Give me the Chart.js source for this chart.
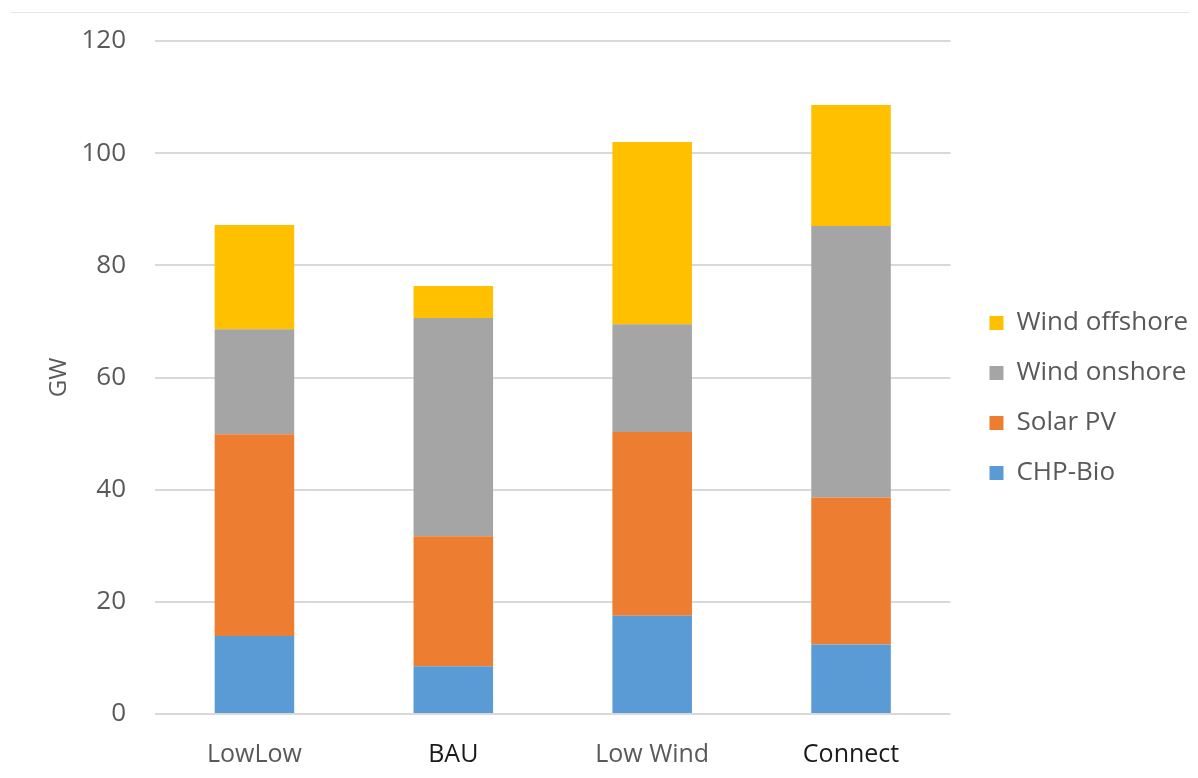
<!DOCTYPE html>
<html>
<head>
<meta charset="utf-8">
<script src="https://cdn.jsdelivr.net/npm/chart.js@4/dist/chart.umd.min.js"></script>
<style>
  html, body { margin: 0; padding: 0; background: #fff; overflow: hidden; }
  #wrap { position: relative; width: 1198px; height: 778px; }
  #topline { position: absolute; left: 10px; right: 8px; top: 12px; height: 1px; background: #e6e6e6; }
  canvas { position: absolute; left: 0; top: 0; }
</style>
</head>
<body>
<div id="wrap">
  <div id="topline"></div>
  <canvas id="c" width="1198" height="778"></canvas>
</div>
<script>
const categories = ["LowLow", "BAU", "Low Wind", "Connect"];
const chpBio      = [13.9, 8.5, 17.5, 12.4];
const solarPV     = [36.0, 23.2, 32.8, 26.2];
const windOnshore = [18.7, 38.9, 19.2, 48.4];
const windOffshore= [18.6, 5.7, 32.5, 21.6];
const yTicks = [0, 20, 40, 60, 80, 100, 120];
const categoryColors = ["#595959", "#1a1a1a", "#595959", "#1a1a1a"];

const FONT = "'Open Sans', 'Noto Sans', sans-serif";

new Chart(document.getElementById("c"), {
  type: "bar",
  data: {
    labels: categories,
    datasets: [
      { label: "CHP-Bio", data: chpBio, backgroundColor: "#5B9BD5" },
      { label: "Solar PV", data: solarPV, backgroundColor: "#ED7D31" },
      { label: "Wind onshore", data: windOnshore, backgroundColor: "#A5A5A5" },
      { label: "Wind offshore", data: windOffshore, backgroundColor: "#FFC000" }
    ]
  },
  options: {
    responsive: false,
    animation: false,
    devicePixelRatio: 1,
    layout: { padding: { left: 45, right: 0, top: 24, bottom: 6 } },
    datasets: { bar: { categoryPercentage: 1.0, barPercentage: 0.4 } },
    plugins: {
      tooltip: { enabled: false },
      legend: {
        position: "right",
        reverse: true,
        align: "center",
        maxWidth: 320,
        labels: {
          font: { family: FONT, size: 26 },
          color: "#595959",
          boxWidth: 14,
          boxHeight: 14,
          padding: 24
        }
      }
    },
    scales: {
      x: {
        stacked: true,
        grid: { display: false, drawTicks: false },
        border: { display: false },
        ticks: {
          font: { family: FONT, size: 25 },
          color: categoryColors,
          padding: 26
        },
        afterFit: (axis) => { axis.height = 58; }
      },
      y: {
        stacked: true,
        min: 0,
        max: 120,
        afterBuildTicks: (axis) => { axis.ticks = yTicks.map(v => ({ value: v })); },
        grid: { color: "#d9d9d9", lineWidth: 2, drawTicks: false },
        border: { display: false },
        ticks: {
          font: { family: FONT, size: 26 },
          color: "#595959",
          padding: 29
        },
        title: {
          display: true,
          text: "GW",
          font: { family: FONT, size: 24 },
          color: "#595959",
          padding: { top: 0, bottom: 10 }
        },
        afterFit: (axis) => { axis.width = 110; axis.paddingTop = 41; }
      },
      spacer: {
        type: "linear",
        position: "right",
        display: true,
        grid: { display: false },
        border: { display: false },
        ticks: { display: false },
        afterFit: (axis) => { axis.width = 15; }
      }
    }
  }
});
</script>
</body>
</html>
